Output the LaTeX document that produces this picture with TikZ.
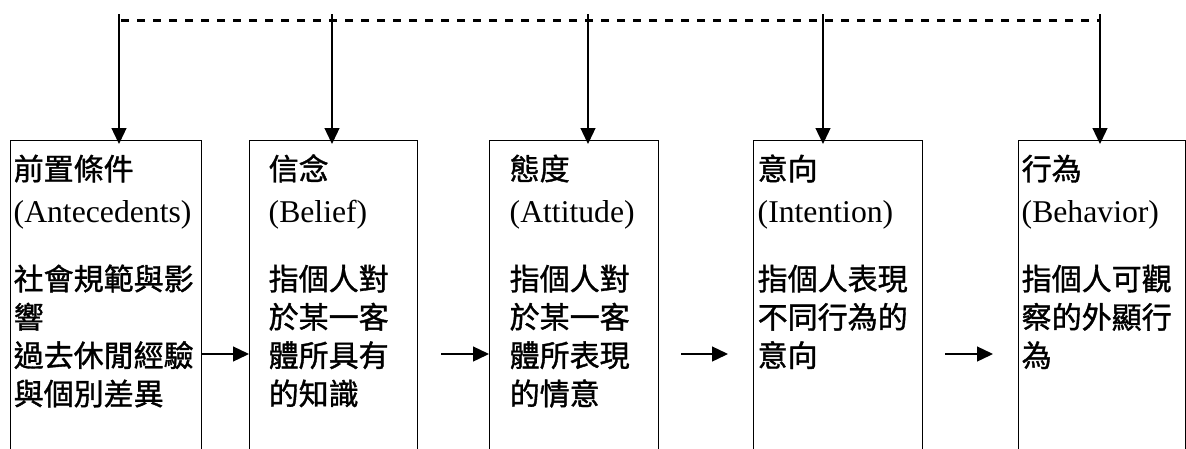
\documentclass[tikz,border=0pt]{standalone}
\usepackage{fontspec}
\setmainfont{Liberation Serif}
\newfontfamily\cjk[FakeBold=1.2]{Noto Sans CJK TC}
\usetikzlibrary{arrows.meta,positioning}

\newcommand{\stagetext}[3]{#1\\[3.7pt]{\rmfamily\fontsize{31.7}{38.3}\selectfont #2}\\[29.7pt]#3}

\begin{document}
\begin{tikzpicture}[x=1pt,y=-1pt,
    stage/.style={draw,line width=1.4pt,anchor=north west,inner sep=0pt,minimum height=340pt},
    stagelabel/.style={anchor=base west,inner sep=0pt,text width=200pt,align=left,
      font=\cjk\fontsize{30}{38.3}\selectfont},
    flow/.style={line width=1.3pt,-{Triangle[length=16pt,width=15pt]}},
    feed/.style={line width=2.8pt,dash pattern=on 7.5pt off 8.5pt,dash phase=-2pt}]
  \useasboundingbox (0,0) rectangle (1186,448);
  \clip (0,0) rectangle (1186,448);

  % the five stages
  \node[stage,minimum width=191pt] (antec) at (10,140) {};
  \node[stage,minimum width=168pt] (belief) at (249,140) {};
  \node[stage,minimum width=169pt] (attit) at (489,140) {};
  \node[stage,minimum width=169pt] (inten) at (753,140) {};
  \node[stage,minimum width=167pt] (behav) at (1018,140) {};

  \node[stagelabel] (antec-txt) at (13.5,180) {\stagetext{前置條件}{(Antecedents)}{社會規範與影\\響\\過去休閒經驗\\與個別差異}};
  \node[stagelabel] (belief-txt) at (268.5,180) {\stagetext{信念}{(Belief)}{指個人對\\於某一客\\體所具有\\的知識}};
  \node[stagelabel] (attit-txt) at (509.5,180) {\stagetext{態度}{(Attitude)}{指個人對\\於某一客\\體所表現\\的情意}};
  \node[stagelabel] (inten-txt) at (757.5,180) {\stagetext{意向}{(Intention)}{指個人表現\\不同行為的\\意向}};
  \node[stagelabel] (behav-txt) at (1021.5,180) {\stagetext{行為}{(Behavior)}{指個人可觀\\察的外顯行\\為}};

  % feedback line on top
  \coordinate (fb-antec) at (119,14);
  \coordinate (fb-belief) at (332,14);
  \coordinate (fb-attit) at (588,14);
  \coordinate (fb-inten) at (823,14);
  \coordinate (fb-behav) at (1100,14);
  \coordinate (dash-l) at (119,20.7);
  \coordinate (dash-r) at (1100,20.7);
  \draw[feed] (dash-l) -- (dash-r);
  \foreach \s in {antec,belief,attit,inten,behav}
    \draw[flow,shorten >=-4pt] (fb-\s) -- (fb-\s |- \s.north);

  % arrows between the stages
  \coordinate (a2) at (441,354);
  \coordinate (a3) at (681,354);
  \coordinate (b3) at (728,354);
  \coordinate (a4) at (945,354);
  \coordinate (b4) at (993,354);
  \draw[flow] (antec.east |- a2) -- (belief.west |- a2);
  \draw[flow] (a2) -- (attit.west |- a2);
  \draw[flow] (a3) -- (b3);
  \draw[flow] (a4) -- (b4);
\end{tikzpicture}
\end{document}
